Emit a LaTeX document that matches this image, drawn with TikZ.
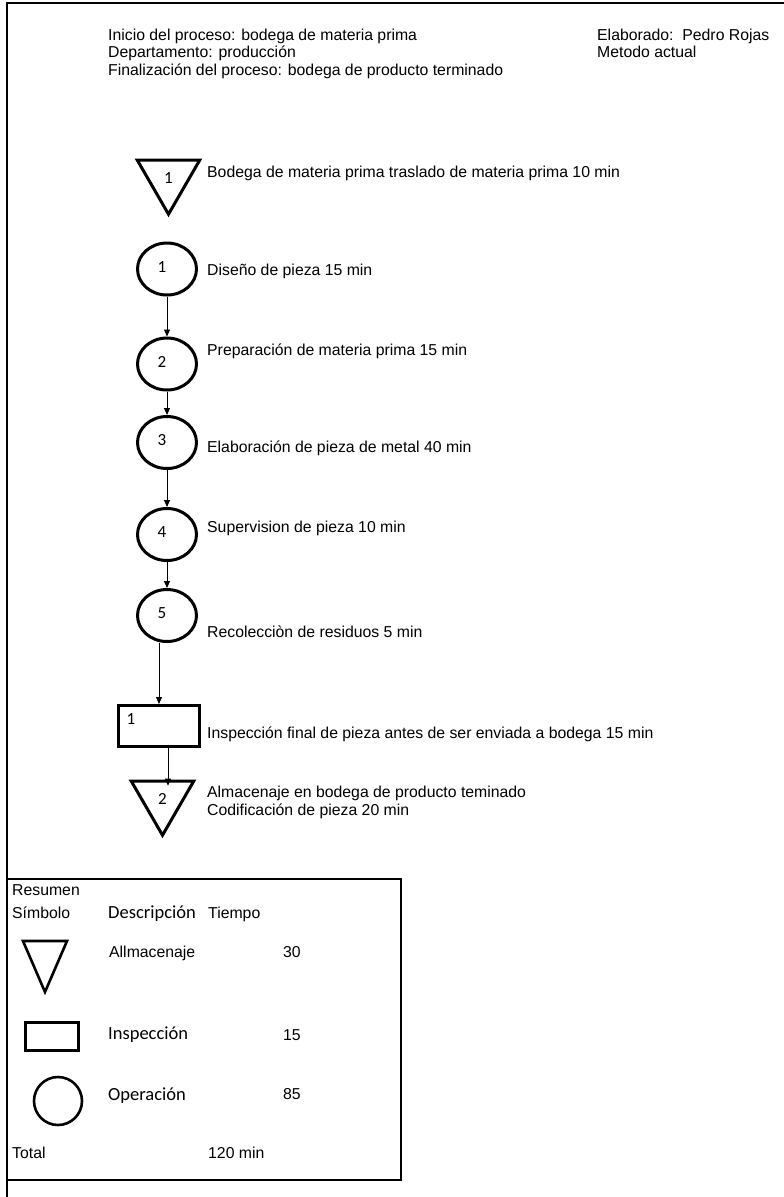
\documentclass[tikz,border=0pt]{standalone}
\usepackage{fontspec}
\setmainfont{Liberation Sans}
\newfontfamily\calib{Carlito}
\usetikzlibrary{arrows.meta,shapes.geometric,calc}

\begin{document}
\begin{tikzpicture}[
  x=1pt, y=-1pt, >={Triangle[length=7pt,width=6pt]},
  frame/.style={line width=1.6pt},
  op/.style={draw, ellipse, line width=3pt, minimum width=59pt,
             minimum height=52pt, inner sep=0pt},
  alm/.style={draw, regular polygon, regular polygon sides=3,
              shape border rotate=180, line width=3pt, minimum size=72pt,
              inner sep=0pt, font=\calib\fontsize{17}{17}\selectfont},
  insbox/.style={draw, line width=3pt, minimum width=81pt, minimum height=41pt},
  num/.style={font=\calib\fontsize{17}{17}\selectfont, inner sep=0pt},
  txt/.style={anchor=base west, inner sep=0pt, font=\fontsize{15.8}{17.5}\selectfont},
  ctxt/.style={anchor=base west, inner sep=0pt, font=\calib\fontsize{18.5}{20}\selectfont},
  flow/.style={->, line width=0.8pt}]
\useasboundingbox (0,0) rectangle (784,1197);

% page frame and header
\draw[frame] (784,3) -- (7,3) -- (7,1197);
\node[txt] (inicio) at (108,40.5) {Inicio del proceso: bodega de materia prima};
\node[txt] (depto) at (108,57.5) {Departamento: producción};
\node[txt] (fin) at (108,75.5) {Finalización del proceso: bodega de producto terminado};
\node[txt] (elab) at (597,40.5) {Elaborado:\ \ Pedro Rojas};
\node[txt] (metodo) at (597,57.5) {Metodo actual};

% flow
\node[alm] (alm1) at (168.5,178.2) {1};
\node[op, label={[num,xshift=-5pt,yshift=2pt]center:1}] (c1) at (167,269) {};
\node[op, label={[num,xshift=-5pt,yshift=2pt]center:2}] (c2) at (167,364) {};
\node[op, label={[num,xshift=-5pt,yshift=2pt]center:3}] (c3) at (167,442.5) {};
\node[op, label={[num,xshift=-5pt,yshift=2pt]center:4}] (c4) at (167,534.5) {};
\node[op, label={[num,xshift=-5pt,yshift=2pt]center:5}] (c5) at (167,615.5) {};
\node[insbox] (insp) at (159,726) {};
\node[num] (insnum) at (131,719) {1};
\node[alm] (alm2) at (162.5,799.2) {2};

\node[txt] (t1) at (207,177.5) {Bodega de materia prima traslado de materia prima 10 min};
\node[txt] (t2) at (207,275.5) {Diseño de pieza 15 min};
\node[txt] (t3) at (207,355.5) {Preparación de materia prima 15 min};
\node[txt] (t4) at (207,452.5) {Elaboración de pieza de metal 40 min};
\node[txt] (t5) at (207,532.5) {Supervision de pieza 10 min};
\node[txt] (t6) at (207,637.5) {Recolecciòn de residuos 5 min};
\node[txt] (t7) at (207,738.5) {Inspección final de pieza antes de ser enviada a bodega 15 min};
\node[txt] (t8) at (207,797.5) {Almacenaje en bodega de producto teminado};
\node[txt] (t9) at (207,815.5) {Codificación de pieza 20 min};

\draw[flow] (c1) -- (c2);
\draw[flow] (c2) -- (c3);
\draw[flow] (c3) -- (c4);
\draw[flow] (c4) -- (c5);
\draw[flow] (insp.north |- c5.south) -- (insp.north);
\draw[flow] ($(insp.south)+(9,0)$) -- ($(alm2.north -| insp.south)+(9,6)$);

% resumen
\draw[frame] (7,879) rectangle (401,1180);
\node[txt] (resumen) at (12,895.5) {Resumen};
\node[txt] (simbolo) at (12,918.5) {Símbolo};
\node[ctxt] (desc) at (108,918) {Descripción};
\node[txt] (tiempo) at (208,918.5) {Tiempo};
\draw[line width=2.6pt] (23,941) -- (67,941) -- (45,992) -- cycle;
\node[txt] (almtxt) at (109,957.5) {Allmacenaje};
\node[txt] (almval) at (283,957.5) {30};
\node[draw, line width=3pt, minimum width=53pt, minimum height=28pt] (insym) at (51.5,1036) {};
\node[ctxt] (instxt) at (108,1039) {Inspección};
\node[txt] (insval) at (283,1040.5) {15};
\node[draw, circle, line width=2.6pt, minimum size=48pt] (opsym) at (58,1101) {};
\node[ctxt] (optxt) at (108,1100) {Operación};
\node[txt] (opval) at (283,1099.5) {85};
\node[txt] (total) at (12,1158.5) {Total};
\node[txt] (totval) at (208,1158.5) {120 min};
\end{tikzpicture}
\end{document}
